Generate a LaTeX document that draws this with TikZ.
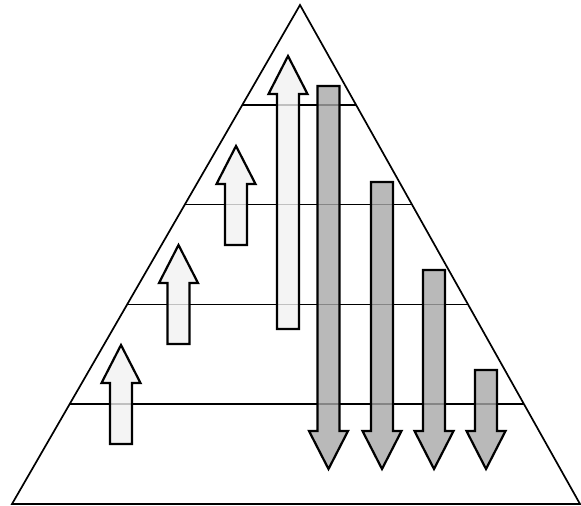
\documentclass[tikz,border=0pt]{standalone}
\usepackage{tikz}
\usetikzlibrary{calc}
\definecolor{liftfill}{RGB}{241, 241, 241}
\definecolor{dropfill}{RGB}{167, 167, 167}

% block arrows: #1 centre x, #2 tail y, #3 tip y, #4 style
\newcommand{\liftarrow}[4]{%
    \draw[#4] (#1-11,#2) -- (#1-11,#3+38) -- (#1-19.5,#3+38) -- (#1,#3)
        -- (#1+19.5,#3+38) -- (#1+11,#3+38) -- (#1+11,#2) -- cycle;
}
\newcommand{\droparrow}[4]{%
    \draw[#4] (#1-11,#2) -- (#1-11,#3-38) -- (#1-19.5,#3-38) -- (#1,#3)
        -- (#1+19.5,#3-38) -- (#1+11,#3-38) -- (#1+11,#2) -- cycle;
}

\begin{document}
\begin{tikzpicture}[
        x=0.5pt, y=-0.5pt,
        edge/.style={line width=0.85pt, line join=miter},
        liftarr/.style={draw, line width=1.1pt, fill=liftfill, fill opacity=0.8},
        droparr/.style={draw, line width=1.1pt, fill=dropfill, fill opacity=0.8}
    ]
    \useasboundingbox (0,0) rectangle (581,506);

    % Pyramid
    \coordinate (apex) at (300,5);
    \coordinate (bl) at (12,504);
    \coordinate (br) at (580,504);
    \draw[edge] (apex) -- (bl) -- (br) -- cycle;

    % Levels
    \foreach \f in {0.2,0.4,0.6,0.8} {
        \draw[edge] ($(apex)!\f!(bl)$) -- ($(apex)!\f!(br)$);
    }

    % Upward arrows
    \liftarrow{121}{444}{345}{liftarr}
    \liftarrow{178.5}{344}{245}{liftarr}
    \liftarrow{236}{245}{146}{liftarr}
    \liftarrow{288}{329}{56}{liftarr}

    % Downward arrows
    \droparrow{328.5}{86}{469}{droparr}
    \droparrow{382}{182}{469}{droparr}
    \droparrow{434}{270}{469}{droparr}
    \droparrow{486}{370}{469}{droparr}
\end{tikzpicture}
\end{document}
